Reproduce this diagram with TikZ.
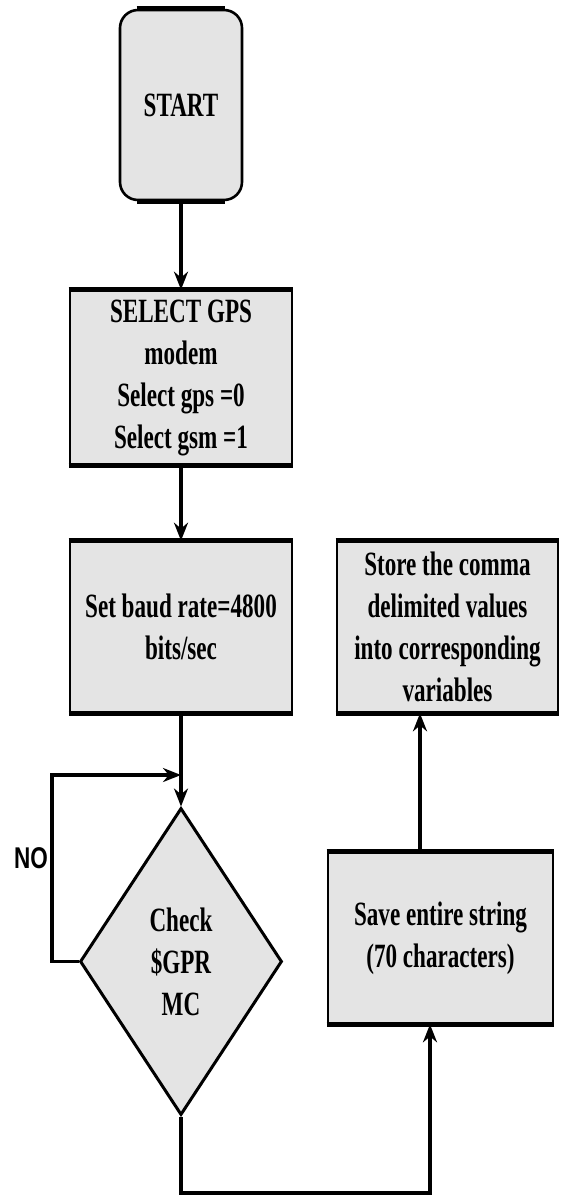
\documentclass[tikz,border=0pt]{standalone}
\usepackage{fontspec}
\setmainfont{Liberation Serif}[FakeStretch=0.68]
\newfontfamily\nofont{Liberation Sans}[FakeStretch=0.75]
\usetikzlibrary{shapes.geometric,arrows.meta,calc}
\definecolor{boxgray}{HTML}{E4E4E4}
\tikzset{
 box/.style={draw, line width=1.3pt, fill=boxgray, inner sep=0pt, align=center, font=\fontsize{17}{21}\selectfont\bfseries},
 thickedge/.style={line width=2.6pt},
 arr/.style={line width=1.6pt, -{Stealth[length=9pt,width=7pt]}},
}
\begin{document}
\begin{tikzpicture}[x=0.5pt,y=-0.5pt]
\useasboundingbox[fill=white] (0,0) rectangle (561,1195);
% nodes
\node[box, rounded corners=9pt, minimum width=61pt, minimum height=95pt] (start) at (181,105) {START};
\node[box, minimum width=111pt, minimum height=86.5pt] (sel) at (181,377.5) {SELECT GPS\\modem\\Select gps =0\\Select gsm =1};
\node[box, minimum width=111pt, minimum height=85pt] (baud) at (181,627) {Set baud rate=4800\\bits/sec};
\node[box, minimum width=110.5pt, minimum height=85pt] (store) at (447.5,627) {Store the comma\\delimited values\\into corresponding\\variables};
\node[box, diamond, line width=1.5pt, minimum width=101pt, minimum height=153.5pt] (dec) at (181,961.5) {Check\\\$GPR\\MC};
\node[box, minimum width=112.5pt, minimum height=85pt] (save) at (440.5,938) {Save entire string\\(70 characters)};
\node[font=\nofont\fontsize{15}{18}\selectfont\bfseries] (no) at (31,858) {NO};
% thick top and bottom edges
\foreach \n in {sel,baud,store,save}{
  \draw[thickedge] (\n.north west) -- (\n.north east);
  \draw[thickedge] (\n.south west) -- (\n.south east);
}
\draw[thickedge] ([xshift=9pt]start.north west) -- ([xshift=-9pt]start.north east);
\draw[thickedge] ([xshift=9pt]start.south west) -- ([xshift=-9pt]start.south east);
% connectors
\coordinate (loopL) at (52,775);
\coordinate (join) at (181,775);
\coordinate (br) at (430,1193);
\coordinate (upx) at (420,0);
\draw[arr] (start) -- (sel);
\draw[arr] (sel) -- (baud);
\draw[arr] (baud) -- (dec);
\draw[arr] (dec.west) -| (loopL) -- (join);
\draw[arr] (dec.south) |- (br) -- (br |- save.south);
\draw[arr] (upx |- save.north) -- (upx |- store.south);
\end{tikzpicture}
\end{document}
